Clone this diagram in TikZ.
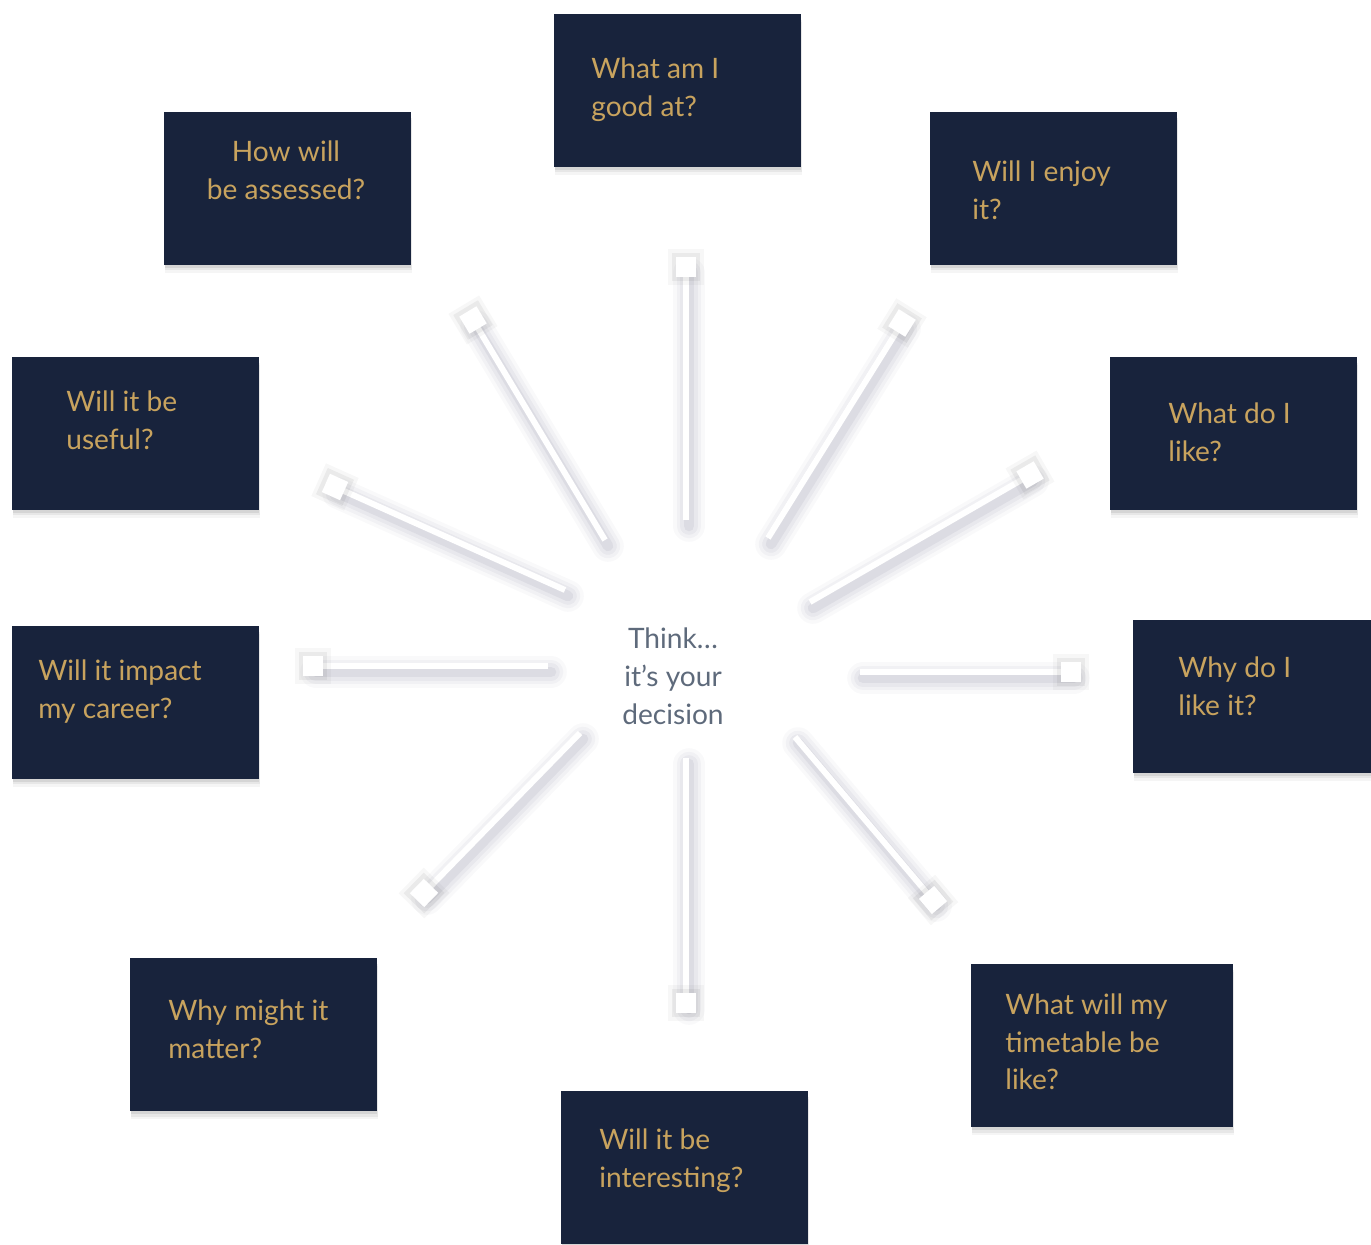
\documentclass[tikz,border=0pt]{standalone}
\usepackage{fontspec}
\setmainfont{Lato}
\usetikzlibrary{positioning,calc,shadows}
\definecolor{navy}{HTML}{18233C}
\definecolor{gold}{HTML}{C8A35E}
\definecolor{slate}{HTML}{5E6A7B}
\tikzset{
  qbox/.style={fill=navy, minimum width=4.94cm, minimum height=3.06cm, inner sep=0pt,
    drop shadow={shadow xshift=0.02cm, shadow yshift=-0.16cm, opacity=0.04, fill=black},
    drop shadow={shadow xshift=0.02cm, shadow yshift=-0.11cm, opacity=0.06, fill=black},
    drop shadow={shadow xshift=0.01cm, shadow yshift=-0.06cm, opacity=0.08, fill=black}},
  qtext/.style={text=gold, font=\fontsize{16}{21.6}\selectfont, align=left, anchor=north west, inner sep=0pt},
  spoke/.style={draw=white, line width=3.4pt},
  spokeshade/.style={draw=black!80!blue, line cap=round},
  endsq/.style={fill=white, minimum size=0.4cm, inner sep=0pt,
    preaction={draw=black, line width=9pt, opacity=0.03},
    preaction={draw=black, line width=5pt, opacity=0.05}},
}

\begin{document}
\begin{tikzpicture}[x=0.02cm, y=-0.02cm,
  think/.style={text=slate, font=\fontsize{16}{21.6}\selectfont, align=center, inner sep=0pt},
]
  \useasboundingbox (0,0) rectangle (1371,1244);

  % question boxes
  \node[qbox] (good) at (677.5,90.5) {};
  \node[qbox] (enjoy) at (1053.5,188.5) {};
  \node[qbox] (like) at (1233.5,433.5) {};
  \node[qbox] (whylike) at (1256.5,696.5) {};
  \node[qbox, minimum width=5.24cm, minimum height=3.26cm] (timetable) at (1102,1045.5) {};
  \node[qbox] (interesting) at (684.5,1167.5) {};
  \node[qbox] (matter) at (253.5,1034.5) {};
  \node[qbox] (career) at (135.5,702.5) {};
  \node[qbox] (useful) at (135.5,433.5) {};
  \node[qbox] (assessed) at (287.5,188.5) {};

  \node[qtext] (good-t) at (591,57) {What am I\\good at?};
  \node[qtext] (enjoy-t) at (972,160) {Will I enjoy\\it?};
  \node[qtext] (like-t) at (1168,402) {What do I\\like?};
  \node[qtext] (whylike-t) at (1178,656) {Why do I\\like it?};
  \node[qtext] (timetable-t) at (1005,993) {What will my\\timetable be\\like?};
  \node[qtext] (interesting-t) at (599,1128) {Will it be\\interesting?};
  \node[qtext] (matter-t) at (168,999) {Why might it\\matter?};
  \node[qtext] (career-t) at (38,659) {Will it impact\\my career?};
  \node[qtext] (useful-t) at (66,390) {Will it be\\useful?};
  \node[qtext, align=center, anchor=north] (assessed-t) at (286,140) {How will\\be assessed?};

  \node[think] (think) at (673,676) {Think…\\it’s your\\decision};

  % spokes
  \coordinate (up-a) at (686,520);  \coordinate (up-b) at (686,267);
  \coordinate (ur-a) at (768,538);  \coordinate (ur-b) at (902,323);
  \coordinate (ru-a) at (810,602);  \coordinate (ru-b) at (1030,475);
  \coordinate (rt-a) at (860,672);  \coordinate (rt-b) at (1071,672);
  \coordinate (dr-a) at (795,737);  \coordinate (dr-b) at (933,900);
  \coordinate (dn-a) at (686,758);  \coordinate (dn-b) at (686,1003);
  \coordinate (dl-a) at (580,733);  \coordinate (dl-b) at (424,893);
  \coordinate (lt-a) at (548,666);  \coordinate (lt-b) at (313,666);
  \coordinate (lu-a) at (565,590);  \coordinate (lu-b) at (335,487);
  \coordinate (ul-a) at (605,540);  \coordinate (ul-b) at (473,320);

  \foreach \s in {up,ur,ru,rt,dr,dn,dl,lt,lu,ul}{
    \foreach \w/\o in {18/0.025,14/0.03,10/0.04,6/0.05}
      \draw[spokeshade, line width=\w pt, opacity=\o, transform canvas={shift={(3,6)}}]
        (\s-a) -- (\s-b);
  }
  \foreach \s in {up,ur,ru,rt,dr,dn,dl,lt,lu,ul}
    \draw[spoke] (\s-a) -- (\s-b) node[endsq, pos=1, sloped] (\s-sq) {};
\end{tikzpicture}
\end{document}
